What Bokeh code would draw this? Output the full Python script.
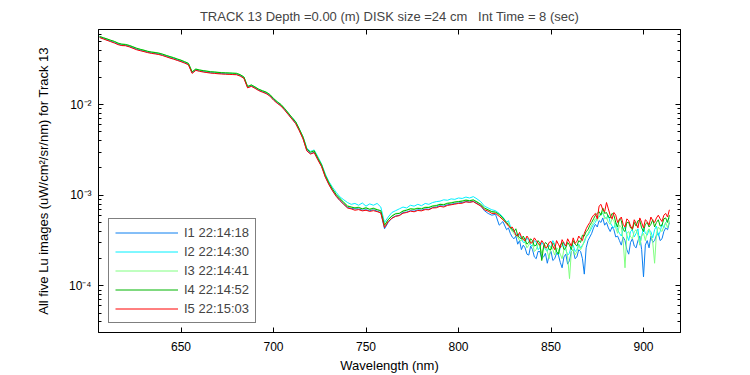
from bokeh.plotting import figure
from bokeh.models import (Range1d, LinearAxis, LogAxis, FixedTicker, LogTicker,
                          CustomJSTickFormatter, Legend, LegendItem)
from bokeh.embed import file_html
from bokeh.resources import INLINE

# ---------------- data ----------------
wavelength = [
    606, 608, 610, 612, 614, 616, 618, 620, 622, 624,
    626, 628, 630, 632, 634, 636, 638, 640, 642, 644,
    646, 648, 650, 652, 654, 656, 658, 660, 662, 664,
    666, 668, 670, 672, 674, 676, 678, 680, 682, 684,
    686, 688, 690, 692, 694, 696, 698, 700, 702, 704,
    706, 708, 710, 712, 714, 716, 718, 720, 722, 724,
    726, 728, 730, 732, 734, 736, 738, 740, 742, 744,
    746, 748, 750, 752, 754, 756, 758, 760, 762, 764,
    766, 768, 770, 772, 774, 776, 778, 780, 782, 784,
    786, 788, 790, 792, 794, 796, 798, 800, 802, 804,
    806, 808, 810, 812, 814, 816, 818, 820, 822, 824,
    826, 827, 828, 829, 830, 831, 832, 833, 834, 835,
    836, 837, 838, 839, 840, 841, 842, 843, 844, 845,
    846, 847, 848, 849, 850, 851, 852, 853, 854, 855,
    856, 857, 858, 859, 860, 861, 862, 863, 864, 865,
    866, 867, 868, 869, 870, 871, 872, 873, 874, 875,
    876, 877, 878, 879, 880, 881, 882, 883, 884, 885,
    886, 887, 888, 889, 890, 891, 892, 893, 894, 895,
    896, 897, 898, 899, 900, 901, 902, 903, 904, 905,
    906, 907, 908, 909, 910, 911, 912, 913, 914,
]

# log10 of Lu (uW/cm^2/sr/nm), one list per image
log_lu_i1 = [
    -1.256, -1.27, -1.286, -1.3, -1.315, -1.333, -1.344, -1.346, -1.357, -1.373,
    -1.389, -1.4, -1.41, -1.421, -1.429, -1.435, -1.442, -1.453, -1.467, -1.481,
    -1.493, -1.507, -1.521, -1.537, -1.555, -1.65, -1.617, -1.627, -1.635, -1.641,
    -1.647, -1.65, -1.654, -1.657, -1.659, -1.661, -1.663, -1.665, -1.68, -1.705,
    -1.81, -1.793, -1.815, -1.84, -1.857, -1.873, -1.9, -1.945, -1.98, -2.01,
    -2.055, -2.105, -2.155, -2.205, -2.285, -2.375, -2.505, -2.54, -2.525, -2.605,
    -2.68, -2.795, -2.88, -2.95, -3.01, -3.06, -3.1, -3.135, -3.145, -3.15,
    -3.15, -3.165, -3.16, -3.17, -3.16, -3.175, -3.19, -3.37, -3.3, -3.25,
    -3.23, -3.22, -3.19, -3.185, -3.17, -3.175, -3.16, -3.165, -3.15, -3.155,
    -3.135, -3.13, -3.115, -3.12, -3.105, -3.1, -3.09, -3.085, -3.08, -3.07,
    -3.075, -3.068, -3.09, -3.115, -3.17, -3.2, -3.22, -3.21, -3.33, -3.29,
    -3.38, -3.36, -3.42, -3.46, -3.48, -3.45, -3.54, -3.5, -3.6, -3.55,
    -3.58, -3.65, -3.66, -3.56, -3.6, -3.68, -3.7, -3.62, -3.62, -3.7,
    -3.68, -3.64, -3.75, -3.66, -3.62, -3.72, -3.7, -3.64, -3.66, -3.74,
    -3.8, -3.68, -3.65, -3.76, -3.72, -3.62, -3.6, -3.7, -3.68, -3.6,
    -3.62, -3.7, -3.87, -3.58, -3.5, -3.46, -3.42, -3.36, -3.32, -3.35,
    -3.28, -3.3, -3.25, -3.33, -3.3, -3.36, -3.4, -3.35, -3.38, -3.46,
    -3.45, -3.5, -3.55, -3.46, -3.5, -3.6, -3.65, -3.52, -3.48, -3.56,
    -3.58, -3.5, -3.45, -3.6, -3.9, -3.55, -3.5, -3.58, -3.45, -3.52,
    -3.5, -3.44, -3.42, -3.5, -3.48, -3.4, -3.36, -3.38, -3.3,
]
log_lu_i2 = [
    -1.25, -1.265, -1.28, -1.294, -1.309, -1.327, -1.337, -1.34, -1.351, -1.367,
    -1.383, -1.393, -1.404, -1.415, -1.423, -1.429, -1.436, -1.447, -1.461, -1.474,
    -1.487, -1.5, -1.514, -1.53, -1.549, -1.643, -1.61, -1.62, -1.628, -1.634,
    -1.64, -1.643, -1.647, -1.65, -1.652, -1.654, -1.656, -1.658, -1.673, -1.698,
    -1.803, -1.786, -1.808, -1.833, -1.85, -1.866, -1.893, -1.938, -1.973, -2.003,
    -2.045, -2.095, -2.14, -2.19, -2.27, -2.355, -2.48, -2.515, -2.5, -2.575,
    -2.655, -2.765, -2.85, -2.915, -2.97, -3.02, -3.05, -3.08, -3.1, -3.09,
    -3.11, -3.085, -3.12, -3.095, -3.11, -3.09, -3.13, -3.3, -3.24, -3.19,
    -3.17, -3.15, -3.13, -3.14, -3.11, -3.12, -3.1, -3.115, -3.09, -3.1,
    -3.08, -3.07, -3.065, -3.05, -3.055, -3.04, -3.045, -3.03, -3.035, -3.02,
    -3.03, -3.015, -3.04, -3.07, -3.12, -3.14, -3.16, -3.17, -3.2, -3.24,
    -3.3, -3.28, -3.34, -3.38, -3.4, -3.42, -3.45, -3.43, -3.48, -3.52,
    -3.52, -3.47, -3.5, -3.55, -3.56, -3.5, -3.52, -3.6, -3.58, -3.52,
    -3.55, -3.6, -3.62, -3.55, -3.58, -3.5, -3.54, -3.62, -3.66, -3.58,
    -3.56, -3.52, -3.6, -3.66, -3.64, -3.55, -3.55, -3.62, -3.6, -3.54,
    -3.58, -3.55, -3.52, -3.46, -3.44, -3.4, -3.36, -3.32, -3.3, -3.25,
    -3.24, -3.21, -3.2, -3.24, -3.26, -3.22, -3.3, -3.34, -3.36, -3.3,
    -3.38, -3.42, -3.45, -3.38, -3.35, -3.44, -3.5, -3.4, -3.38, -3.46,
    -3.42, -3.37, -3.55, -3.45, -3.36, -3.42, -3.44, -3.38, -3.4, -3.47,
    -3.38, -3.34, -3.45, -3.4, -3.32, -3.36, -3.3, -3.28, -3.25,
]
log_lu_i3 = [
    -1.245, -1.26, -1.274, -1.288, -1.303, -1.32, -1.331, -1.334, -1.345, -1.36,
    -1.376, -1.388, -1.398, -1.41, -1.418, -1.423, -1.43, -1.441, -1.455, -1.468,
    -1.48, -1.495, -1.508, -1.525, -1.543, -1.636, -1.606, -1.616, -1.623, -1.629,
    -1.635, -1.638, -1.642, -1.645, -1.647, -1.649, -1.651, -1.653, -1.668, -1.693,
    -1.798, -1.781, -1.803, -1.828, -1.845, -1.86, -1.886, -1.93, -1.966, -1.996,
    -2.04, -2.09, -2.14, -2.188, -2.27, -2.358, -2.488, -2.522, -2.507, -2.588,
    -2.663, -2.778, -2.862, -2.932, -2.992, -3.035, -3.075, -3.115, -3.13, -3.138,
    -3.13, -3.148, -3.135, -3.152, -3.14, -3.155, -3.172, -3.335, -3.265, -3.225,
    -3.2, -3.198, -3.17, -3.16, -3.148, -3.15, -3.14, -3.145, -3.13, -3.13,
    -3.115, -3.11, -3.098, -3.1, -3.085, -3.08, -3.072, -3.068, -3.06, -3.05,
    -3.058, -3.05, -3.07, -3.098, -3.145, -3.165, -3.185, -3.19, -3.215, -3.26,
    -3.32, -3.3, -3.36, -3.4, -3.42, -3.45, -3.46, -3.5, -3.5, -3.47,
    -3.52, -3.58, -3.55, -3.5, -3.53, -3.62, -3.6, -3.54, -3.56, -3.64,
    -3.58, -3.55, -3.62, -3.7, -3.56, -3.6, -3.66, -3.58, -3.6, -3.65,
    -3.7, -3.6, -3.58, -3.68, -3.92, -3.62, -3.6, -3.66, -3.62, -3.55,
    -3.6, -3.56, -3.5, -3.45, -3.42, -3.38, -3.33, -3.3, -3.26, -3.28,
    -3.22, -3.2, -3.18, -3.26, -3.24, -3.3, -3.32, -3.26, -3.28, -3.36,
    -3.42, -3.33, -3.35, -3.5, -3.8, -3.42, -3.4, -3.46, -3.48, -3.4,
    -3.38, -3.44, -3.55, -3.45, -3.42, -3.5, -3.4, -3.37, -3.45, -3.52,
    -3.75, -3.42, -3.35, -3.38, -3.4, -3.34, -3.3, -3.36, -3.28,
]
log_lu_i4 = [
    -1.248, -1.262, -1.275, -1.29, -1.302, -1.322, -1.333, -1.336, -1.347, -1.362,
    -1.378, -1.39, -1.4, -1.412, -1.42, -1.425, -1.432, -1.443, -1.457, -1.47,
    -1.482, -1.497, -1.51, -1.527, -1.545, -1.638, -1.608, -1.618, -1.625, -1.631,
    -1.637, -1.64, -1.644, -1.647, -1.649, -1.651, -1.653, -1.655, -1.67, -1.695,
    -1.8, -1.783, -1.805, -1.83, -1.847, -1.862, -1.888, -1.932, -1.968, -1.998,
    -2.043, -2.093, -2.143, -2.19, -2.272, -2.36, -2.49, -2.525, -2.51, -2.59,
    -2.665, -2.78, -2.865, -2.935, -2.995, -3.04, -3.08, -3.12, -3.13, -3.14,
    -3.135, -3.15, -3.14, -3.155, -3.145, -3.16, -3.17, -3.33, -3.27, -3.23,
    -3.205, -3.2, -3.175, -3.165, -3.15, -3.155, -3.145, -3.15, -3.135, -3.135,
    -3.12, -3.115, -3.1, -3.105, -3.09, -3.085, -3.075, -3.07, -3.065, -3.055,
    -3.06, -3.052, -3.075, -3.1, -3.14, -3.16, -3.18, -3.185, -3.21, -3.25,
    -3.3, -3.33, -3.35, -3.38, -3.4, -3.37, -3.44, -3.47, -3.48, -3.45,
    -3.49, -3.54, -3.52, -3.48, -3.5, -3.56, -3.55, -3.5, -3.53, -3.72,
    -3.56, -3.52, -3.54, -3.6, -3.6, -3.53, -3.55, -3.62, -3.65, -3.55,
    -3.52, -3.6, -3.58, -3.52, -3.55, -3.6, -3.5, -3.54, -3.56, -3.5,
    -3.52, -3.44, -3.45, -3.4, -3.38, -3.33, -3.3, -3.26, -3.22, -3.2,
    -3.18, -3.22, -3.14, -3.2, -3.19, -3.24, -3.25, -3.2, -3.22, -3.3,
    -3.35, -3.26, -3.28, -3.38, -3.4, -3.3, -3.3, -3.36, -3.38, -3.3,
    -3.34, -3.28, -3.28, -3.36, -3.4, -3.32, -3.3, -3.35, -3.32, -3.27,
    -3.35, -3.3, -3.27, -3.34, -3.33, -3.26, -3.25, -3.3, -3.22,
]
log_lu_i5 = [
    -1.26, -1.275, -1.29, -1.305, -1.32, -1.338, -1.348, -1.35, -1.362, -1.378,
    -1.394, -1.405, -1.415, -1.426, -1.434, -1.44, -1.447, -1.458, -1.472, -1.486,
    -1.498, -1.512, -1.526, -1.542, -1.56, -1.655, -1.622, -1.632, -1.64, -1.646,
    -1.652, -1.655, -1.659, -1.662, -1.664, -1.666, -1.668, -1.67, -1.685, -1.71,
    -1.815, -1.798, -1.82, -1.845, -1.862, -1.878, -1.905, -1.95, -1.985, -2.015,
    -2.06, -2.11, -2.16, -2.21, -2.29, -2.38, -2.51, -2.545, -2.53, -2.61,
    -2.685, -2.8, -2.885, -2.955, -3.015, -3.06, -3.1, -3.14, -3.15, -3.165,
    -3.158, -3.172, -3.165, -3.178, -3.17, -3.18, -3.195, -3.356, -3.29, -3.255,
    -3.232, -3.225, -3.198, -3.19, -3.175, -3.182, -3.168, -3.172, -3.158, -3.16,
    -3.14, -3.138, -3.122, -3.13, -3.112, -3.105, -3.098, -3.09, -3.088, -3.072,
    -3.078, -3.07, -3.095, -3.118, -3.16, -3.175, -3.2, -3.2, -3.232, -3.27,
    -3.31, -3.34, -3.36, -3.35, -3.39, -3.44, -3.45, -3.41, -3.46, -3.49,
    -3.5, -3.45, -3.48, -3.53, -3.52, -3.47, -3.5, -3.53, -3.55, -3.5,
    -3.53, -3.58, -3.57, -3.52, -3.51, -3.56, -3.6, -3.5, -3.54, -3.58,
    -3.49, -3.53, -3.56, -3.48, -3.52, -3.56, -3.47, -3.53, -3.51, -3.45,
    -3.48, -3.5, -3.42, -3.37, -3.33, -3.3, -3.25, -3.22, -3.2, -3.26,
    -3.12, -3.1, -3.16, -3.18, -3.08, -3.15, -3.22, -3.26, -3.19, -3.22,
    -3.3, -3.27, -3.24, -3.32, -3.35, -3.26, -3.28, -3.34, -3.37, -3.27,
    -3.31, -3.36, -3.25, -3.3, -3.36, -3.27, -3.29, -3.33, -3.24, -3.28,
    -3.3, -3.25, -3.22, -3.26, -3.29, -3.22, -3.2, -3.24, -3.16,
]

series_labels = ["I1 22:14:18", "I2 22:14:30", "I3 22:14:41", "I4 22:14:52", "I5 22:15:03"]
series_logs = [log_lu_i1, log_lu_i2, log_lu_i3, log_lu_i4, log_lu_i5]
series_colors = ["#0a7ff0", "#00f0ff", "#80ff80", "#00b400", "#ff0000"]
x_ticks = [650, 700, 750, 800, 850, 900]

title_text = "TRACK 13 Depth =0.00 (m) DISK size =24 cm\u00a0\u00a0 Int Time = 8 (sec)"
x_label = "Wavelength (nm)"
y_label = "All five Lu images (uW/cm\u00b2/sr/nm) for Track 13"

FONT = "Liberation Sans"

# ---------------- figure ----------------
p = figure(width=750, height=375, output_backend="svg", toolbar_location=None,
           y_axis_type="log",
           x_range=Range1d(605.4, 920.0),
           y_range=Range1d(3.06e-5, 0.0675),
           min_border_left=98, min_border_right=70,
           min_border_top=28, min_border_bottom=43)

p.background_fill_color = "white"
p.border_fill_color = "white"
p.outline_line_color = "black"
p.outline_line_width = 1
p.xgrid.visible = False
p.ygrid.visible = False

p.title.text = title_text
p.title.text_font = FONT
p.title.text_font_size = "13px"
p.title.text_font_style = "normal"
p.title.align = "center"
p.title.standoff = 12

sup_js = """
const sup = {'-':'\u207b','0':'\u2070','1':'\u00b9','2':'\u00b2','3':'\u00b3',
             '4':'\u2074','5':'\u2075','6':'\u2076','7':'\u2077','8':'\u2078','9':'\u2079'};
const e = Math.round(Math.log10(tick));
return '10' + String(e).split('').map(c => sup[c]).join('');
"""

def style_axis(ax):
    ax.axis_line_color = "black"
    ax.major_tick_in = 5
    ax.major_tick_out = 0
    ax.minor_tick_in = 3
    ax.minor_tick_out = 0
    ax.major_tick_line_color = "black"
    ax.minor_tick_line_color = "black"
    ax.major_label_text_font = FONT
    ax.major_label_text_font_size = "12px"
    ax.major_label_text_color = "black"
    ax.axis_label_text_font = FONT
    ax.axis_label_text_font_size = "13px"
    ax.axis_label_text_font_style = "normal"
    ax.axis_label_text_color = "black"

# bottom x axis
xa = p.xaxis[0]
style_axis(xa)
xa.ticker = FixedTicker(ticks=x_ticks)
xa.minor_tick_line_color = None
xa.axis_label = x_label
xa.major_label_standoff = 9
xa.axis_label_standoff = 4

# left y axis
ya = p.yaxis[0]
style_axis(ya)
ya.ticker = LogTicker(num_minor_ticks=10)
ya.formatter = CustomJSTickFormatter(code=sup_js)
ya.axis_label = y_label
ya.major_label_standoff = 7
ya.axis_label_standoff = 15

# top and right tick-only axes (box style), labels are empty strings
xt = LinearAxis(ticker=FixedTicker(ticks=x_ticks),
                formatter=CustomJSTickFormatter(code="return '';"))
style_axis(xt)
xt.minor_tick_line_color = None
xt.major_label_text_font_size = "1px"
xt.major_label_standoff = 0
p.add_layout(xt, "above")

yr = LogAxis(ticker=LogTicker(num_minor_ticks=10),
             formatter=CustomJSTickFormatter(code="return '';"))
style_axis(yr)
yr.major_label_text_font_size = "1px"
yr.major_label_standoff = 0
p.add_layout(yr, "right")

# ---------------- lines ----------------
items = []
for lab, logs, col in zip(series_labels, series_logs, series_colors):
    vals = [10 ** v for v in logs]
    r = p.line(wavelength, vals, line_color=col, line_width=1)
    items.append(LegendItem(label=lab, renderers=[r]))

legend = Legend(items=items, location=(10, 9), margin=0,
                padding=6, spacing=4, glyph_width=63, glyph_height=15,
                label_height=15, label_standoff=6,
                label_text_font=FONT, label_text_font_size="13px",
                border_line_color="black", border_line_width=1,
                background_fill_color="white", background_fill_alpha=1.0)
p.add_layout(legend, "center")

open("out.html", "w").write(file_html(p, INLINE))
